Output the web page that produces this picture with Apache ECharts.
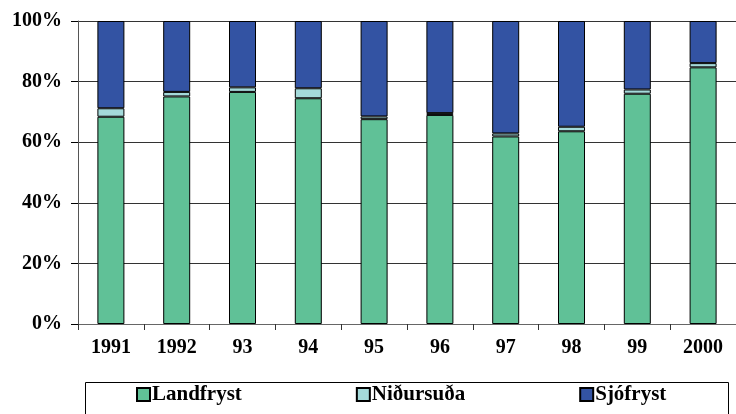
<!DOCTYPE html>
<html><head><meta charset="utf-8">
<script src="https://cdn.jsdelivr.net/npm/echarts@6/dist/echarts.min.js"></script>
<style>html,body{margin:0;padding:0;background:#fff}#c{width:736px;height:414px}</style>
</head><body><div id="c"></div>
<script>
const categories = ['1991','1992','93','94','95','96','97','98','99','2000'];
const landfryst = [68.4, 75.1, 76.6, 74.5, 67.6, 69.0, 61.9, 63.6, 76.0, 84.7];
const nidursuda = [2.8, 1.5, 1.5, 3.3, 0.9, 0.6, 1.0, 1.5, 1.4, 1.4];
const sjofryst  = [28.8, 23.4, 21.9, 22.2, 31.5, 30.4, 37.1, 34.9, 22.6, 13.9];
const yTicks = [0, 20, 40, 60, 80, 100];

const font = '"Liberation Serif", "Times New Roman", serif';
const chart = echarts.init(document.getElementById('c'), null, {renderer:'canvas'});
const barStyle = c => ({color:c, borderColor:'#000', borderWidth:1});
chart.setOption({
  animation:false,
  grid:{left:78, top:21, right:-5, bottom:90},
  graphic:[{
    type:'rect', left:83, top:380, z:-1,
    shape:{width:643, height:40},
    style:{fill:'none', stroke:'#000', lineWidth:1}
  }],
  legend:{
    left:136, top:384, width:600,
    padding:0,
    itemWidth:13, itemHeight:13, itemGap:114,
    icon:'rect',
    textStyle:{fontFamily:font, fontWeight:'bold', fontSize:21, color:'#000', padding:[0,0,0,-3]},
    data:['Landfryst','Niðursuða','Sjófryst']
  },
  xAxis:{
    type:'category', data:categories,
    axisLine:{lineStyle:{color:'#666', width:1}},
    axisTick:{show:true, length:6, lineStyle:{color:'#333'}},
    axisLabel:{fontFamily:font, fontWeight:'bold', fontSize:20, color:'#000', margin:14}
  },
  yAxis:{
    type:'value', min:yTicks[0], max:yTicks[yTicks.length-1], interval:20,
    axisLine:{show:true, lineStyle:{color:'#555', width:1}},
    axisTick:{show:true, length:7, lineStyle:{color:'#000'}},
    splitLine:{lineStyle:{color:'#333', width:1}},
    axisLabel:{fontFamily:font, fontWeight:'bold', fontSize:20, color:'#000', margin:16, formatter:'{value}%'}
  },
  series:[
    {name:'Landfryst', type:'bar', stack:'a', barWidth:27, data:landfryst, itemStyle:barStyle('#60C197')},
    {name:'Niðursuða', type:'bar', stack:'a', barWidth:27, data:nidursuda, itemStyle:barStyle('#A4DADA')},
    {name:'Sjófryst', type:'bar', stack:'a', barWidth:27, data:sjofryst, itemStyle:barStyle('#3353A3')}
  ]
});
</script></body></html>
